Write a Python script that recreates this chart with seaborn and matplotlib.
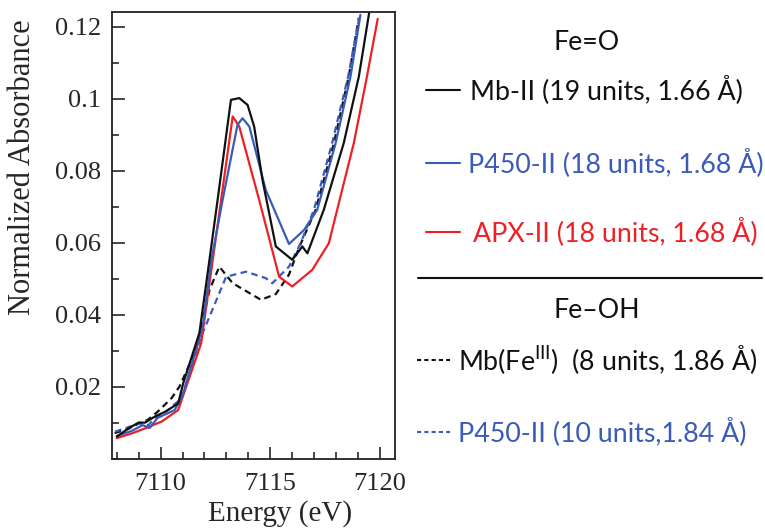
import matplotlib
matplotlib.use("Agg")
import matplotlib.pyplot as plt
import seaborn as sns
import pandas as pd
from matplotlib.lines import Line2D
from matplotlib.ticker import MultipleLocator

sns.set_style("white")
plt.rcParams['font.family'] = ['Liberation Serif', 'DejaVu Serif']
plt.rcParams['mathtext.fontset'] = 'custom'
plt.rcParams['mathtext.rm'] = 'Lato'

# ---- data ----
mb2_E = [7108.0, 7108.53, 7108.99, 7109.29, 7109.74, 7110.20, 7110.80, 7111.03, 7111.77, 7112.23,
         7112.60, 7113.21, 7113.59, 7113.97, 7114.27, 7114.65, 7115.26, 7116.01, 7116.47, 7116.70,
         7117.45, 7118.36, 7119.05, 7119.55]
mb2_A = [0.0062, 0.0085, 0.0101, 0.0101, 0.0118, 0.0131, 0.0154, 0.0210, 0.0350, 0.0553,
         0.0719, 0.0997, 0.1002, 0.0983, 0.0923, 0.0775, 0.0590, 0.0553, 0.0590, 0.0571,
         0.0692, 0.0877, 0.1062, 0.1250]

p450_E = [7108.0, 7108.68, 7109.18, 7109.5, 7109.86, 7110.64, 7111.0, 7111.92, 7112.32, 7112.83,
          7113.51, 7113.74, 7114.05, 7114.80, 7115.86, 7116.55, 7117.15, 7117.99, 7118.67, 7119.12]
p450_A = [0.0064, 0.0078, 0.0094, 0.0086, 0.0114, 0.0136, 0.0175, 0.0367, 0.0553, 0.0719,
          0.0928, 0.0946, 0.0923, 0.0747, 0.0597, 0.0636, 0.0692, 0.0877, 0.1062, 0.1233]

apx_E = [7108.0, 7108.68, 7109.29, 7110.05, 7110.80, 7111.17, 7111.85, 7112.76, 7113.29, 7113.59,
         7114.5, 7115.41, 7116.01, 7116.92, 7117.68, 7118.06, 7118.82, 7119.42, 7119.91]
apx_A = [0.0058, 0.0071, 0.0085, 0.0104, 0.0136, 0.0201, 0.0321, 0.0719, 0.0951, 0.0923,
         0.0719, 0.0506, 0.0479, 0.0525, 0.0599, 0.0692, 0.0877, 0.1062, 0.1222]

mb3_E = [7107.9, 7108.5, 7109.05, 7109.4, 7109.86, 7110.5, 7110.86, 7111.62, 7112.23, 7112.68,
         7113.29, 7114.58, 7115.26, 7115.86, 7116.32, 7117.08, 7117.91, 7118.59, 7119.05]
mb3_A = [0.0072, 0.0083, 0.0100, 0.0108, 0.0131, 0.0169, 0.0201, 0.0303, 0.0469, 0.0534,
         0.0488, 0.0442, 0.0458, 0.0512, 0.0587, 0.0692, 0.0877, 0.1062, 0.1225]

p450oh_E = [7107.92, 7108.38, 7108.99, 7109.44, 7109.74, 7110.35, 7110.95, 7111.85, 7112.23, 7112.99,
            7113.9, 7114.8, 7115.1, 7115.86, 7116.39, 7117.0, 7117.83, 7118.56, 7119.09]
p450oh_A = [0.0076, 0.0085, 0.0099, 0.0094, 0.0113, 0.0136, 0.0169, 0.0340, 0.0395, 0.0506,
            0.0520, 0.0502, 0.0488, 0.0534, 0.0599, 0.0692, 0.0877, 0.1062, 0.1231]

x_ticks = [7110, 7115, 7120]
y_ticks = [0.02, 0.04, 0.06, 0.08, 0.1, 0.12]
y_tick_labels = ["0.02", "0.04", "0.06", "0.08", "0.1", "0.12"]

BLACK = "#111111"
BLUE = "#3a5bb8"
RED = "#ee2026"

W, H = 765, 532
fig = plt.figure(figsize=(W / 100, H / 100), dpi=100)
fig.patch.set_facecolor("white")
ax = fig.add_axes([112 / W, 1 - 459 / H, (395 - 112) / W, (459 - 12) / H])

series = [
    (mb3_E, mb3_A, BLACK, (3, 2)),
    (p450oh_E, p450oh_A, BLUE, (3, 2)),
    (apx_E, apx_A, RED, None),
    (p450_E, p450_A, BLUE, None),
    (mb2_E, mb2_A, BLACK, None),
]
for E, A, c, dash in series:
    df = pd.DataFrame({"E": E, "A": A})
    sns.lineplot(data=df, x="E", y="A", ax=ax, color=c, lw=1.6,
                 estimator=None, sort=False)
    line = ax.lines[-1]
    if dash is not None:
        line.set_dashes(dash)

ax.set_xlim(7107.78, 7120.7)
ax.set_ylim(0.0, 0.1241)
ax.set_xticks(x_ticks)
ax.set_yticks(y_ticks)
ax.set_yticklabels(y_tick_labels)
ax.xaxis.set_minor_locator(MultipleLocator(1))
ax.yaxis.set_minor_locator(MultipleLocator(0.01))
ax.tick_params(axis="both", which="major", direction="in", length=9, width=1.2,
               labelsize=19, left=True, bottom=True, top=False, right=False)
ax.tick_params(axis="x", which="major", pad=10)
ax.tick_params(axis="y", which="major", pad=8)
ax.tick_params(axis="both", which="minor", direction="in", length=5, width=1.2,
               left=True, bottom=True, top=False, right=False)
for s in ax.spines.values():
    s.set_visible(True)
    s.set_color("#222222")
    s.set_linewidth(1.3)

ax.set_xlabel("Energy (eV)", fontsize=21)
ax.xaxis.set_label_coords(0.594, -0.092)
ax.set_ylabel("Normalized Absorbance", fontsize=22)
ax.yaxis.label.set_va("center")
ax.yaxis.set_label_coords((23 - 112) / 283, (459 - 167) / 447)

# ---- side legend ----
SANS = ['Lato', 'DejaVu Sans']
fs = 19.3

def fx(x):
    return x / W

def fy(y):
    return 1 - y / H

fig.text(fx(587), fy(43), "Fe=O", fontsize=fs, family=SANS, ha="center", va="center", color=BLACK)
items = [
    (90, 426, 460, 470, "Mb-II (19 units, 1.66 Å)", BLACK, "-"),
    (163, 426, 460, 468, "P450-II (18 units, 1.68 Å)", BLUE, "-"),
    (232, 426, 460, 473, "APX-II (18 units, 1.68 Å)", RED, "-"),
    (360, 417, 450, 458, r"Mb(Fe$^{\mathrm{III}}$)  (8 units, 1.86 Å)", BLACK, "--"),
    (432, 417, 450, 458, "P450-II (10 units,1.84 Å)", BLUE, "--"),
]
for y, x0, x1, xt, txt, c, ls in items:
    ln = Line2D([fx(x0), fx(x1)], [fy(y), fy(y)], transform=fig.transFigure, color=c, lw=1.5)
    if ls == "--":
        ln.set_dashes((2, 1.5))
    fig.add_artist(ln)
    fig.text(fx(xt), fy(y), txt, fontsize=fs, family=SANS, ha="left", va="center", color=c)

fig.add_artist(Line2D([fx(418), fx(762)], [fy(278), fy(278)], transform=fig.transFigure,
                      color=BLACK, lw=1.5))
fig.text(fx(597), fy(310), "Fe\u2013OH", fontsize=fs, family=SANS, ha="center", va="center", color=BLACK)

fig.savefig("out.png", dpi=100, facecolor="white")
